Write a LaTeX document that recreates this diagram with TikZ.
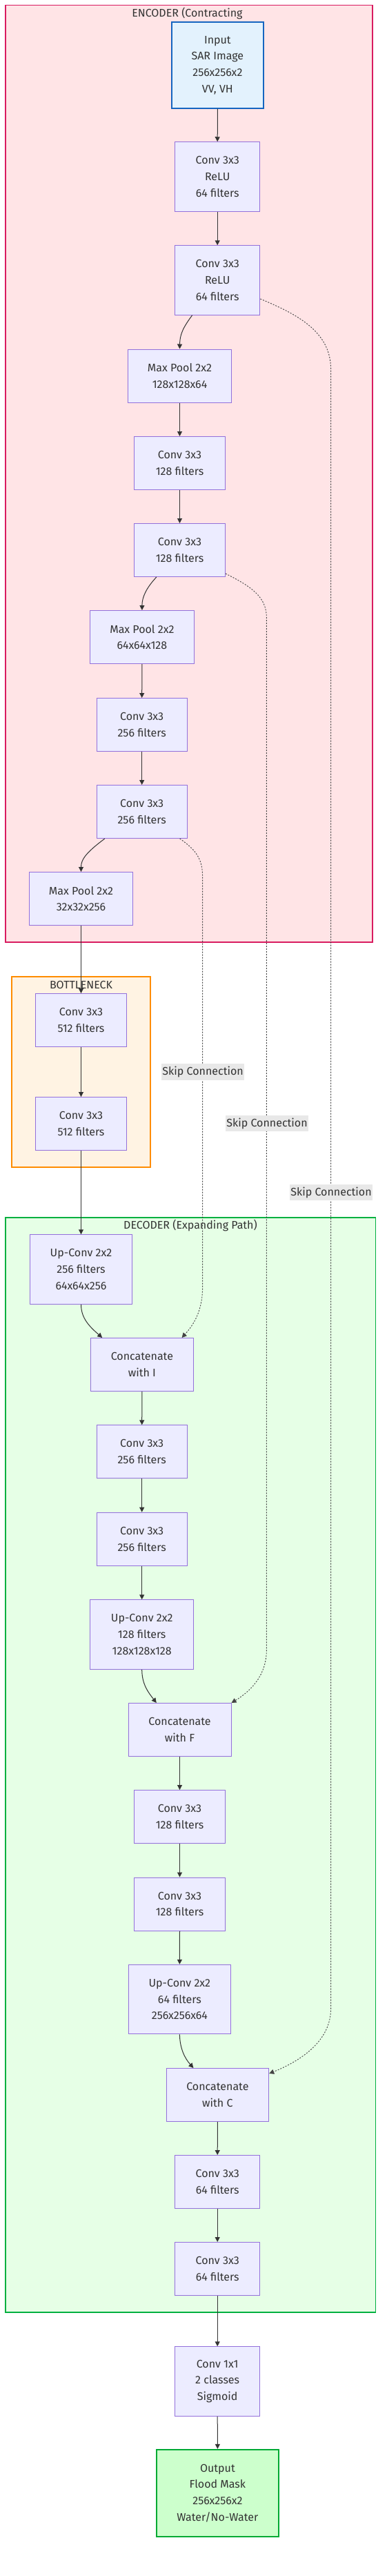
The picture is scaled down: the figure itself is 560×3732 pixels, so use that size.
\documentclass[tikz,border=0pt]{standalone}
\usepackage{fontspec}
\setmainfont{Fira Sans}
\usetikzlibrary{arrows.meta,calc}
\definecolor{txt}{HTML}{333333}
\definecolor{nodef}{HTML}{ECECFF}
\definecolor{nodeb}{HTML}{9370DB}
\definecolor{encf}{HTML}{FFE4E6}
\definecolor{encb}{HTML}{D81B60}
\definecolor{botf}{HTML}{FFF3E3}
\definecolor{botb}{HTML}{FF8C00}
\definecolor{decf}{HTML}{E6FFE6}
\definecolor{decb}{HTML}{00B040}
\definecolor{inf}{HTML}{E3F2FD}
\definecolor{inb}{HTML}{1565C0}
\definecolor{outf}{HTML}{CCFFCC}
\definecolor{outb}{HTML}{00AA33}
\definecolor{lblf}{HTML}{E8E8E8}
\definecolor{skipc}{HTML}{444444}
\begin{document}
\begin{tikzpicture}[x=1pt,y=-1pt,
  txtfont/.style={font=\fontsize{16}{23.7}\selectfont},
  box/.style={draw=nodeb, fill=nodef, line width=1pt, inner sep=0pt, align=center, text=txt, txtfont},
  two/.style={minimum height=77pt},
  three/.style={minimum height=100.5pt},
  cluster/.style={line width=1.6pt},
  ctitle/.style={text=txt, txtfont, inner sep=0pt},
  edge/.style={draw=txt, line width=1pt, -{Triangle[length=7pt,width=7pt]}},
  skip/.style={draw=skipc, line width=0.9pt, dash pattern=on 2pt off 2pt, -{Triangle[length=7pt,width=7pt]}},
  lbl/.style={fill=lblf, text=txt, txtfont, inner xsep=1pt, inner ysep=0pt, minimum height=23.3pt}
]
\useasboundingbox (0,0) rectangle (560,3732);

% clusters
\draw[cluster, draw=encb, fill=encf] (7.9,7.3) rectangle (540,1365);
\node[ctitle] (enct) at (271.4,19.5) {ENCODER (Contracting};
\draw[cluster, draw=botb, fill=botf] (17.1,1414.7) rectangle (217.9,1690.7);
\node[ctitle] (bott) at (117.5,1426.7) {BOTTLENECK};
\draw[cluster, draw=decb, fill=decf] (7.9,1763.7) rectangle (544.3,3350);
\node[ctitle] (dect) at (276,1775.7) {DECODER (Expanding Path)};

% encoder nodes
\node[box, draw=inb, fill=inf, line width=2pt, minimum width=132.8pt, minimum height=124.4pt] (in) at (315.4,94.5) {Input\\SAR Image\\256x256x2\\VV, VH};
\node[box, three, minimum width=123.2pt] (c1) at (315.2,256) {Conv 3x3\\ReLU\\64 filters};
\node[box, three, minimum width=123.2pt] (c2) at (315.2,406) {Conv 3x3\\ReLU\\64 filters};
\node[box, two, minimum width=150.3pt] (p1) at (260.5,544.5) {Max Pool 2x2\\128x128x64};
\node[box, two, minimum width=131.8pt] (c3) at (260.5,671) {Conv 3x3\\128 filters};
\node[box, two, minimum width=131.8pt] (c4) at (260.5,797) {Conv 3x3\\128 filters};
\node[box, two, minimum width=150.4pt] (p2) at (205.9,923) {Max Pool 2x2\\64x64x128};
\node[box, two, minimum width=131.4pt] (c5) at (205.7,1050) {Conv 3x3\\256 filters};
\node[box, two, minimum width=131.4pt] (c6) at (205.7,1176) {Conv 3x3\\256 filters};
\node[box, two, minimum width=150pt] (p3) at (117.5,1302) {Max Pool 2x2\\32x32x256};
% bottleneck
\node[box, two, minimum width=131.4pt] (c7) at (117.5,1478) {Conv 3x3\\512 filters};
\node[box, two, minimum width=131.4pt] (c8) at (117.5,1628) {Conv 3x3\\512 filters};
% decoder
\node[box, three, minimum width=148.6pt] (u1) at (117.5,1839) {Up-Conv 2x2\\256 filters\\64x64x256};
\node[box, two, minimum width=148.2pt] (k1) at (205.9,1977) {Concatenate\\with I};
\node[box, two, minimum width=131.4pt] (c9) at (205.7,2103.3) {Conv 3x3\\256 filters};
\node[box, two, minimum width=131.4pt] (c10) at (205.7,2229.7) {Conv 3x3\\256 filters};
\node[box, three, minimum width=150pt] (u2) at (205.7,2368) {Up-Conv 2x2\\128 filters\\128x128x128};
\node[box, two, minimum width=149pt] (k2) at (260.5,2506) {Concatenate\\with F};
\node[box, two, minimum width=131.8pt] (c11) at (260.5,2632) {Conv 3x3\\128 filters};
\node[box, two, minimum width=131.8pt] (c12) at (260.5,2758.5) {Conv 3x3\\128 filters};
\node[box, three, minimum width=148pt] (u3) at (260.4,2896.5) {Up-Conv 2x2\\64 filters\\256x256x64};
\node[box, two, minimum width=148.6pt] (k3) at (315.4,3035) {Concatenate\\with C};
\node[box, two, minimum width=123.2pt] (c13) at (315.2,3161) {Conv 3x3\\64 filters};
\node[box, two, minimum width=123.2pt] (c14) at (315.2,3287) {Conv 3x3\\64 filters};
% head
\node[box, three, minimum width=123.2pt] (c15) at (315.2,3450) {Conv 1x1\\2 classes\\Sigmoid};
\node[box, draw=outb, fill=outf, line width=2.6pt, minimum width=177.2pt, minimum height=125.7pt] (out) at (315.4,3612) {Output\\Flood Mask\\256x256x2\\Water/No-Water};

% straight edges
\draw[edge] (in.south) -- (c1.north);
\draw[edge] (c1.south) -- (c2.north);
\draw[edge] (p1.south) -- (c3.north);
\draw[edge] (c3.south) -- (c4.north);
\draw[edge] (p2.south) -- (c5.north);
\draw[edge] (c5.south) -- (c6.north);
\draw[edge] (p3.south) -- (c7.north);
\draw[edge] (c7.south) -- (c8.north);
\draw[edge] (c8.south) -- (u1.north);
\draw[edge] (k1.south) -- (c9.north);
\draw[edge] (c9.south) -- (c10.north);
\draw[edge] (c10.south) -- (u2.north);
\draw[edge] (k2.south) -- (c11.north);
\draw[edge] (c11.south) -- (c12.north);
\draw[edge] (c12.south) -- (u3.north);
\draw[edge] (k3.south) -- (c13.north);
\draw[edge] (c13.south) -- (c14.north);
\draw[edge] (c14.south) -- (c15.north);
\draw[edge] (c15.south) -- (out.north);

% curved edges
\draw[edge] ([xshift=-36.6pt]c2.south) .. controls (265,475) and (260.7,485) .. (p1.north);
\draw[edge] ([xshift=-33.7pt]c4.south) .. controls (212,852) and (205.9,865) .. (p2.north);
\draw[edge] ([xshift=-53.9pt]c6.south) .. controls (125,1235) and (117.5,1245) .. (p3.north);
\draw[edge] (u1.south) .. controls (117.5,1910) and (130,1922) .. ([xshift=-57.7pt]k1.north);
\draw[edge] (u2.south) .. controls (205.7,2440) and (215,2452) .. ([xshift=-33.7pt]k2.north);
\draw[edge] (u3.south) .. controls (260.7,2968) and (268,2982) .. ([xshift=-35pt]k3.north);

% skip connections
\coordinate (sc1) at (479.6,535);
\coordinate (sc2) at (479.6,2910);
\coordinate (sf1) at (386.4,895);
\coordinate (sf2) at (386.4,2390);
\coordinate (si1) at (293.6,1270);
\coordinate (si2) at (293.6,1865);
\draw[skip] ([yshift=-27pt]c2.east) .. controls (430,455) and (479.6,480) .. (sc1) -- (sc2) .. controls (479.6,2960) and (430,2988) .. ([yshift=-8pt]k3.north east);
\draw[skip] ([yshift=5pt]c4.south east) .. controls (365,850) and (386.4,865) .. (sf1) -- (sf2) .. controls (386.4,2430) and (360,2452) .. (k2.north east);
\draw[skip] ([xshift=55pt]c6.south) .. controls (285,1232) and (293.6,1245) .. (si1) -- (si2) .. controls (293.6,1900) and (280,1920) .. ([xshift=57.7pt]k1.north);

\node[lbl] (l1) at (294.1,1553) {Skip Connection};
\node[lbl] (l2) at (387,1627.7) {Skip Connection};
\node[lbl] (l3) at (480,1727.7) {Skip Connection};
\end{tikzpicture}
\end{document}
